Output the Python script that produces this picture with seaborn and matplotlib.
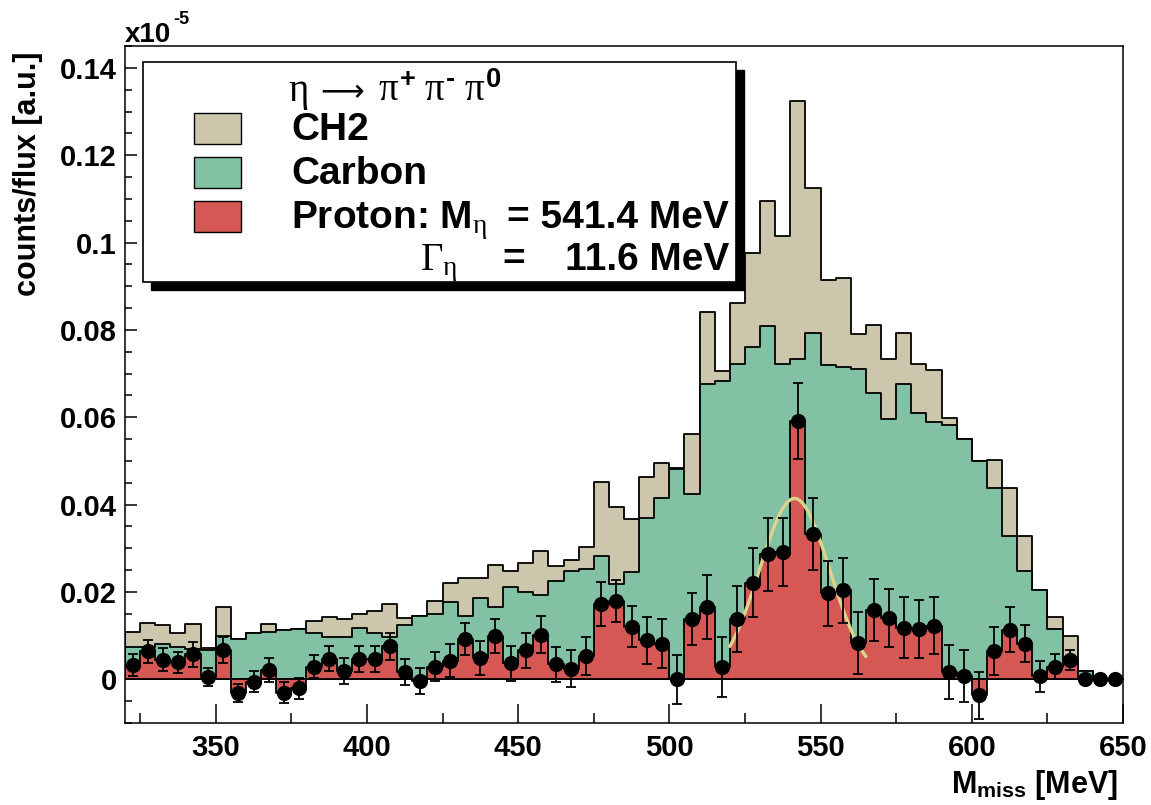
import numpy as np
import pandas as pd
import matplotlib
matplotlib.use("Agg")
import matplotlib.pyplot as plt
from matplotlib.patches import Rectangle
from matplotlib.ticker import MultipleLocator, FuncFormatter
import seaborn as sns

# ---------------------------------------------------------------------------
# Missing-mass spectra, 5 MeV bins from 320 to 650 MeV (units of 1e-5)
# ---------------------------------------------------------------------------
mass_lo, mass_hi, bin_width = 320, 650, 5
bin_centers = np.arange(mass_lo, mass_hi, bin_width) + bin_width / 2

ch2 = [
    0.0108, 0.0128, 0.0125, 0.0107, 0.0126, 0.0071, 0.0166, 0.0092, 0.0105, 0.0127,
    0.0113, 0.0116, 0.0134, 0.0142, 0.0139, 0.0150, 0.0156, 0.0172, 0.0141, 0.0144,
    0.0179, 0.0221, 0.0233, 0.0233, 0.0262, 0.0247, 0.0267, 0.0294, 0.0260, 0.0273,
    0.0303, 0.0452, 0.0395, 0.0366, 0.0464, 0.0496, 0.0483, 0.0561, 0.0840, 0.0707,
    0.0862, 0.0977, 0.1094, 0.1015, 0.1324, 0.1124, 0.0915, 0.0918, 0.0790, 0.0812,
    0.0733, 0.0792, 0.0723, 0.0709, 0.0598, 0.0551, 0.0500, 0.0501, 0.0439, 0.0328,
    0.0204, 0.0142, 0.0099, 0.0018, 0.0000, 0.0000,
]

carbon = [
    0.0074, 0.0075, 0.0082, 0.0073, 0.0070, 0.0066, 0.0099, 0.0092, 0.0105, 0.0108,
    0.0113, 0.0116, 0.0107, 0.0097, 0.0097, 0.0118, 0.0105, 0.0097, 0.0125, 0.0144,
    0.0150, 0.0177, 0.0144, 0.0186, 0.0166, 0.0211, 0.0201, 0.0194, 0.0226, 0.0248,
    0.0252, 0.0282, 0.0218, 0.0245, 0.0370, 0.0415, 0.0482, 0.0424, 0.0675, 0.0683,
    0.0723, 0.0760, 0.0808, 0.0721, 0.0733, 0.0792, 0.0719, 0.0716, 0.0711, 0.0656,
    0.0595, 0.0675, 0.0610, 0.0588, 0.0582, 0.0551, 0.0500, 0.0439, 0.0328, 0.0248,
    0.0204, 0.0116, 0.0045, 0.0018, 0.0000, 0.0000,
]

proton = [
    0.0032, 0.0064, 0.0045, 0.0039, 0.0057, 0.0005, 0.0068, -0.0031, -0.0005, 0.0021,
    -0.0031, -0.0021, 0.0029, 0.0047, 0.0019, 0.0047, 0.0047, 0.0076, 0.0016, -0.0003,
    0.0029, 0.0043, 0.0092, 0.0049, 0.0099, 0.0037, 0.0066, 0.0102, 0.0034, 0.0024,
    0.0053, 0.0172, 0.0179, 0.0120, 0.0089, 0.0082, 0.0000, 0.0138, 0.0166, 0.0028,
    0.0138, 0.0221, 0.0286, 0.0292, 0.0592, 0.0332, 0.0197, 0.0204, 0.0083, 0.0158,
    0.0140, 0.0118, 0.0115, 0.0123, 0.0017, 0.0008, -0.0037, 0.0065, 0.0114, 0.0082,
    0.0007, 0.0029, 0.0045, 0.0000, 0.0000, 0.0000,
]

proton_err = [
    0.0025, 0.0027, 0.0027, 0.0024, 0.0028, 0.0021, 0.0030, 0.0021, 0.0025, 0.0028,
    0.0024, 0.0025, 0.0027, 0.0029, 0.0029, 0.0030, 0.0030, 0.0031, 0.0030, 0.0030,
    0.0033, 0.0037, 0.0037, 0.0039, 0.0039, 0.0040, 0.0039, 0.0042, 0.0040, 0.0042,
    0.0044, 0.0051, 0.0048, 0.0047, 0.0054, 0.0055, 0.0056, 0.0060, 0.0073, 0.0068,
    0.0075, 0.0079, 0.0083, 0.0078, 0.0087, 0.0082, 0.0075, 0.0074, 0.0070, 0.0071,
    0.0066, 0.0070, 0.0066, 0.0066, 0.0062, 0.0059, 0.0053, 0.0055, 0.0051, 0.0043,
    0.0035, 0.0029, 0.0023, 0.0000, 0.0000, 0.0000,
]

# Gaussian fit to the proton spectrum
fit_mass = 541.4
fit_width = 11.6
fit_amplitude = 0.0414
fit_lo, fit_hi = 520.0, 565.0

legend_labels = ["CH2", "Carbon"]

# ---------------------------------------------------------------------------
col_ch2 = "#CCC7AC"
col_carbon = "#82C1A4"
col_proton = "#D55855"
col_fit = "#DCD48A"

sns.set_style("ticks")
plt.rcParams["font.family"] = ["Liberation Sans", "DejaVu Sans"]
plt.rcParams["font.weight"] = "bold"
plt.rcParams["text.color"] = "black"
plt.rcParams["axes.labelcolor"] = "black"
plt.rcParams["xtick.color"] = "black"
plt.rcParams["ytick.color"] = "black"
plt.rcParams["mathtext.fontset"] = "custom"
plt.rcParams["mathtext.rm"] = "Liberation Sans:weight=bold"
plt.rcParams["mathtext.bf"] = "Liberation Sans:weight=bold"
plt.rcParams["mathtext.sf"] = "Liberation Sans:weight=bold"
plt.rcParams["mathtext.it"] = "Liberation Serif:weight=normal"
plt.rcParams["mathtext.cal"] = "Liberation Serif:weight=normal"

W, H = 1151, 805
fig = plt.figure(figsize=(W / 100, H / 100), dpi=100)
ax = fig.add_axes([125 / W, 1 - 723 / H, 998 / W, 677 / H])

df = pd.DataFrame({"mass": bin_centers, "ch2": ch2, "carbon": carbon,
                   "proton": proton, "err": proton_err})

hist_kw = dict(binwidth=bin_width, binrange=(mass_lo, mass_hi), element="step",
               fill=True, alpha=1, edgecolor="black", linewidth=1.3, ax=ax)
sns.histplot(data=df, x="mass", weights="ch2", color=col_ch2, **hist_kw)
sns.histplot(data=df, x="mass", weights="carbon", color=col_carbon, **hist_kw)
sns.histplot(data=df, x="mass", weights="proton", color=col_proton, **hist_kw)

xf = np.linspace(fit_lo, fit_hi, 200)
yf = fit_amplitude * np.exp(-0.5 * ((xf - fit_mass) / fit_width) ** 2)
sns.lineplot(x=xf, y=yf, color=col_fit, linewidth=2.4, ax=ax, zorder=4)

has_err = df["err"] > 0
ax.errorbar(df.loc[has_err, "mass"], df.loc[has_err, "proton"],
            yerr=df.loc[has_err, "err"], fmt="none", ecolor="black",
            elinewidth=1.3, capsize=3.5, capthick=1.3, zorder=5)
sns.scatterplot(data=df, x="mass", y="proton", color="black", s=120,
                edgecolor="black", linewidth=0, ax=ax, zorder=6)

# ---------------------------------------------------------------------------
ax.set_xlim(mass_lo, mass_hi)
ax.set_ylim(-0.01, 0.145)
ax.set_xlabel("")
ax.set_ylabel("")
ax.xaxis.set_major_locator(MultipleLocator(50))
ax.xaxis.set_minor_locator(MultipleLocator(25))
ax.yaxis.set_major_locator(MultipleLocator(0.02))
ax.yaxis.set_minor_locator(MultipleLocator(0.005))
ax.yaxis.set_major_formatter(FuncFormatter(lambda v, _: "0" if abs(v) < 1e-9 else f"{v:g}"))
ax.tick_params(axis="both", which="both", direction="in", top=False, right=False,
               colors="black", width=1.1)
ax.tick_params(axis="x", which="major", length=14, pad=8, labelsize=21)
ax.tick_params(axis="x", which="minor", length=7)
ax.tick_params(axis="y", which="major", length=8.6, pad=6, labelsize=21)
ax.tick_params(axis="y", which="minor", length=5)
for s in ax.spines.values():
    s.set_visible(True)
    s.set_color("black")
    s.set_linewidth(1.1)
for lab in ax.get_xticklabels() + ax.get_yticklabels():
    lab.set_fontweight("bold")


def fx(px):
    return px / W


def fy(py):
    return 1 - py / H


fig.text(fx(28), fy(52), "counts/flux [a.u.]", rotation=90, ha="center", va="top",
         fontsize=22, fontweight="bold")
fig.text(fx(1118), fy(793), r"M$_{\rm miss}$ [MeV]", ha="right", va="baseline",
         fontsize=22, fontweight="bold")
fig.text(fx(125), fy(42), "x10", ha="left", va="baseline", fontsize=20,
         fontweight="bold")
fig.text(fx(173), fy(24), "-5", ha="left", va="baseline", fontsize=13,
         fontweight="bold")

# Legend panel with drop shadow
bx0, by0, bx1, by1 = 143, 62, 736, 282
fig.add_artist(Rectangle((fx(bx0 + 8), fy(by1 + 8)), fx(bx1 - bx0), (by1 - by0) / H,
                         transform=fig.transFigure, facecolor="black",
                         edgecolor="black", zorder=10))
fig.add_artist(Rectangle((fx(bx0), fy(by1)), fx(bx1 - bx0), (by1 - by0) / H,
                         transform=fig.transFigure, facecolor="white",
                         edgecolor="black", linewidth=1.2, zorder=11))

# decay channel heading: eta -> pi+ pi- pi0
fig.text(fx(288), fy(101), r"$\eta$", ha="left", va="baseline", fontsize=28,
         fontweight="normal", zorder=12)
fig.text(fx(320), fy(101), "\u27f6", ha="left", va="baseline", fontsize=22,
         family="DejaVu Sans", fontweight="normal", zorder=12)
fig.text(fx(378), fy(101), r"$\pi^{+}\;\pi^{\text{-}}\;\pi^{0}$", ha="left",
         va="baseline", fontsize=28, fontweight="normal", zorder=12)

for i, col in enumerate([col_ch2, col_carbon, col_proton]):
    top = 113 + 44 * i
    fig.add_artist(Rectangle((fx(194), fy(top + 31)), fx(47), 31 / H,
                             transform=fig.transFigure, facecolor=col,
                             edgecolor="black", linewidth=1.0, zorder=12))
leg_size = 28
for i, lab in enumerate(legend_labels):
    fig.text(fx(291), fy(140 + 44 * i), lab, ha="left", va="baseline",
             fontsize=leg_size, fontweight="bold", zorder=12)
fig.text(fx(291), fy(228), r"Proton: M$_{\eta}$", ha="left", va="baseline",
         fontsize=leg_size, fontweight="bold", zorder=12)
fig.text(fx(729), fy(228), "= 541.4 MeV", ha="right", va="baseline",
         fontsize=leg_size, fontweight="bold", zorder=12)
fig.text(fx(420), fy(270), r"$\mathcal{\Gamma}_{\eta}$", ha="left", va="baseline",
         fontsize=leg_size, fontweight="normal", zorder=12)
fig.text(fx(502), fy(270), "=", ha="left", va="baseline",
         fontsize=leg_size, fontweight="bold", zorder=12)
fig.text(fx(729), fy(270), "11.6 MeV", ha="right", va="baseline",
         fontsize=leg_size, fontweight="bold", zorder=12)

fig.savefig("out.png", dpi=100)
